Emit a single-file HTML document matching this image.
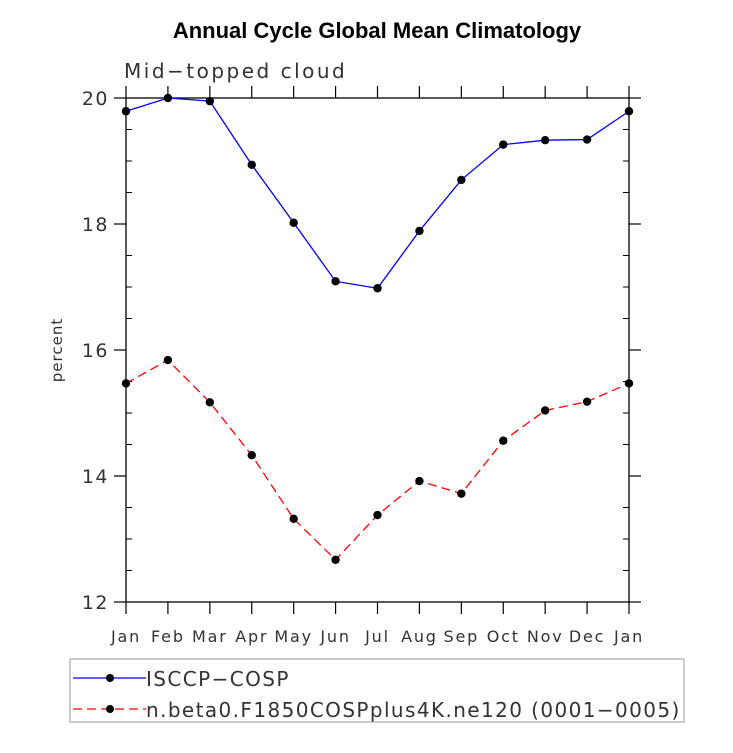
<!DOCTYPE html>
<html><head><meta charset="utf-8"><style>
body{margin:0;background:#fff;}
svg text{font-family:"DejaVu Sans","Liberation Sans",sans-serif;}
</style></head><body>
<svg id="chart" width="733" height="748" xmlns="http://www.w3.org/2000/svg">
<text x="377" y="38" text-anchor="middle" font-family="Liberation Sans" font-weight="bold" font-size="22" fill="#000" style="font-family:'Liberation Sans',sans-serif">Annual Cycle Global Mean Climatology</text>
<text x="124" y="78" font-size="20" fill="#333" letter-spacing="2.5">Mid−topped cloud</text>
<text transform="translate(62,350) rotate(-90)" text-anchor="middle" font-size="15" letter-spacing="1" fill="#333">percent</text>
<g id="axes"></g>
<g id="series"></g>
<rect x="70" y="659" width="614" height="63" fill="none" stroke="#999" stroke-width="1"/>
<g>
<line x1="73" y1="678" x2="146" y2="678" stroke="#00f" stroke-width="1.3"/>
<circle cx="110" cy="678" r="4" fill="#000"/>
<text x="146" y="686" font-size="20" letter-spacing="1.4" fill="#333">ISCCP−COSP</text>
</g>
<g>
<line x1="73" y1="709" x2="146" y2="709" stroke="#f00" stroke-width="1.3" stroke-dasharray="9,5"/>
<circle cx="110" cy="709" r="4" fill="#000"/>
<text x="146" y="717" font-size="20" letter-spacing="1.4" fill="#333">n.beta0.F1850COSPplus4K.ne120 (0001−0005)</text>
</g>
</svg>
<script>
const months=["Jan","Feb","Mar","Apr","May","Jun","Jul","Aug","Sep","Oct","Nov","Dec","Jan"];
const isccpValues=[19.79,20.0,19.95,18.94,18.02,17.09,16.98,17.89,18.70,19.26,19.33,19.34,19.79];
const modelValues=[15.47,15.84,15.17,14.33,13.32,12.67,13.38,13.92,13.72,14.56,15.04,15.18,15.47];
const yTicks=[12,14,16,18,20];
const NS="http://www.w3.org/2000/svg";
const L=126,R=629,T=98,B=602,yMin=12,yMax=20;
const xs=i=>L+(R-L)*i/(months.length-1);
const ys=v=>B-(B-T)*(v-yMin)/(yMax-yMin);
function mk(tag,attrs,parent){const e=document.createElementNS(NS,tag);for(const k in attrs)e.setAttribute(k,attrs[k]);parent.appendChild(e);return e;}
const ax=document.getElementById('axes');
const fr=mk('rect',{x:L,y:T,width:R-L,height:B-T,fill:'none',stroke:'#000','stroke-width':1.3},ax);


months.forEach((m,i)=>{
  const x=xs(i);
  mk('line',{x1:x,y1:B,x2:x,y2:B+12,stroke:'#000','stroke-width':1.2},ax);
  mk('line',{x1:x,y1:T,x2:x,y2:T-12,stroke:'#000','stroke-width':1.2},ax);
  const t=mk('text',{x:x,y:B+40,'text-anchor':'middle','font-size':16,'letter-spacing':1.8,fill:'#333'},ax);
  t.textContent=m;
  
  
});
for(let v=yMin;v<=yMax+1e-9;v+=0.5){
  const y=ys(v);const major=yTicks.includes(v);
  if(major){
    mk('line',{x1:L-12,y1:y,x2:L,y2:y,stroke:'#000','stroke-width':1.2},ax);
    mk('line',{x1:R,y1:y,x2:R+12,y2:y,stroke:'#000','stroke-width':1.2},ax);
  }else{
    mk('line',{x1:L,y1:y,x2:L+6,y2:y,stroke:'#000','stroke-width':1},ax);
    mk('line',{x1:R-6,y1:y,x2:R,y2:y,stroke:'#000','stroke-width':1},ax);
  }
}
yTicks.forEach(v=>{
  const t=mk('text',{x:L-17,y:ys(v)+7,'text-anchor':'end','font-size':19,'letter-spacing':1.5,fill:'#333'},ax);
  t.textContent=v;
  
  
});
const sg=document.getElementById('series');
function draw(vals,color,dash,name){
  const g=mk('g',{},sg);
  
  
  const pts=vals.map((v,i)=>xs(i)+','+ys(v)).join(' ');
  const a={points:pts,fill:'none',stroke:color,'stroke-width':1.3};
  if(dash)a['stroke-dasharray']=dash;
  mk('polyline',a,g);
  vals.forEach((v,i)=>{
    const c=mk('circle',{cx:xs(i),cy:ys(v),r:4.2,fill:'#000'},g);
    
    
  });
}
draw(isccpValues,'#00f',null,'series-isccp-cosp');
draw(modelValues,'#f00','9,5','series-model');
</script>
</body></html>
